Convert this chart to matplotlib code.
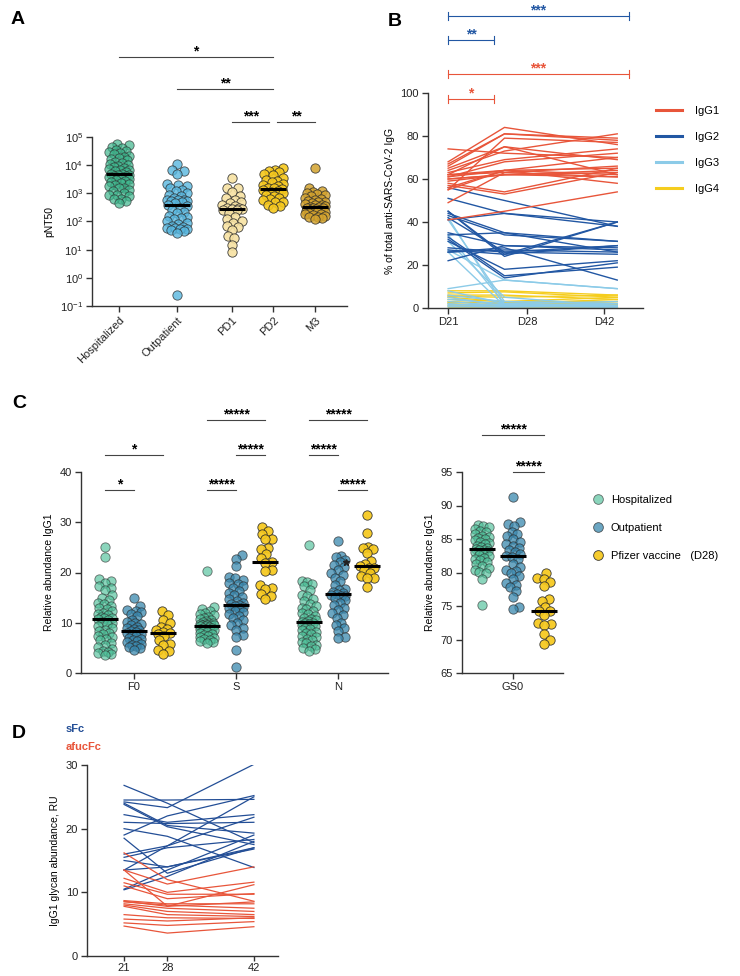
import numpy as np
import matplotlib
matplotlib.use("Agg")
import matplotlib.pyplot as plt
from matplotlib.lines import Line2D
from matplotlib.ticker import NullLocator, LogLocator

plt.rcParams["font.family"] = ["Liberation Sans", "DejaVu Sans"]
plt.rcParams["mathtext.fontset"] = "custom"
plt.rcParams["mathtext.rm"] = "Liberation Sans"
plt.rcParams["axes.unicode_minus"] = True

# ---------------- data ----------------
# A: pNT50
a_groups = ["Hospitalized", "Outpatient", "PD1", "PD2", "M3"]
a_hosp = [55000, 50000, 45000, 40000, 35000, 32000, 30000, 28000, 25000, 22000,
          20000, 18000, 16000, 15000, 13000, 12000, 11000, 10000, 9000, 8500,
          8000, 7500, 7000, 6500, 6000, 5500, 5000, 4800, 4600, 4400, 4200,
          4000, 3800, 3500, 3200, 3000, 2800, 2600, 2400, 2200, 2000, 1800,
          1600, 1500, 1300, 1200, 1000, 900, 850, 800, 650, 620, 550, 450]
a_outp = [11000, 7000, 6000, 5000, 2200, 2000, 1800, 1500, 1300, 1200, 1000,
          900, 800, 700, 600, 580, 560, 550, 540, 500, 450, 400, 350, 300,
          250, 220, 200, 160, 140, 130, 120, 100, 90, 80, 70, 65, 60, 58, 56,
          55, 50, 45, 40, 0.25]
a_pd1 = [3500, 1600, 1500, 1100, 800, 700, 600, 500, 450, 400, 350, 300, 290,
         280, 270, 260, 250, 200, 150, 120, 100, 90, 70, 65, 50, 30, 25, 15, 8.5]
a_pd2 = [8000, 7000, 6000, 5500, 5000, 4500, 3500, 3000, 2800, 2500, 2200,
         2000, 1800, 1600, 1500, 1400, 1300, 1200, 1100, 1000, 900, 800, 700,
         650, 600, 500, 480, 400, 350, 300]
a_m3 = [8000, 1600, 1200, 1100, 1000, 950, 900, 800, 700, 650, 600, 550, 500,
        480, 450, 420, 400, 380, 350, 330, 320, 310, 300, 290, 280, 260, 250,
        240, 230, 220, 210, 200, 190, 180, 170, 160, 150, 140, 130, 120]

# B: % of total IgG per subject at D21, D28, D42
b_days = [21, 28, 42]
b_ticklabels = ["D21", "D28", "D42"]
igg1 = [(74, 72, 70), (68, 84, 76), (67, 81, 79), (66, 81, 78), (65, 75, 62),
        (64, 73, 81), (63, 69, 74), (62, 64, 65), (62, 63, 66), (61, 64, 70),
        (61, 68, 72), (60, 62, 64), (59, 62, 61), (58, 54, 65), (57, 53, 63),
        (56, 64, 62), (55, 79, 77), (55, 64, 58), (49, 63, 61), (41, 45, 54),
        (62, 75, 69), (60, 62, 63)]
igg2 = [(56, 50, 38), (51, 44, 40), (45, 25, 40), (45, 24, 40), (44, 35, 31),
        (43, 34, 31), (42, 26, 29), (35, 29, 27), (34, 35, 26), (33, 15, 19),
        (32, 14, 21), (31, 18, 22), (28, 26, 25), (27, 25, 29), (26, 27, 26),
        (26, 28, 13), (22, 29, 28), (41, 44, 38)]
igg3 = [(42, 1, 1), (41, 3, 2), (34, 2, 1), (31, 5, 1), (27, 13, 9),
        (26, 1, 0.5), (9, 13, 9), (8, 2, 1), (6, 3, 2), (5, 1, 0.5), (4, 2, 3),
        (3, 1, 1), (2, 0.5, 1), (1.5, 1.5, 0.5), (1, 0.5, 0.5), (0.5, 0.5, 2)]
igg4 = [(8, 8, 6), (7, 7.5, 5), (6, 6, 4), (5.5, 5, 6), (5, 3, 5), (4, 3, 3),
        (3, 2, 4), (2.5, 2.5, 2), (2, 1, 3), (1, 1, 1.5), (0.5, 0.5, 0.5)]

# C: relative abundance IgG1
c_glycans = ["F0", "S", "N"]
c_groups = ["Hospitalized", "Outpatient", "Pfizer vaccine   (D28)"]
f0_hosp = [25.1, 23, 18.7, 18.3, 18, 17.3, 17, 16.5, 15.5, 15, 14.6, 14, 13.7,
           13.4, 13, 12.7, 12.3, 12, 11.8, 11.5, 11.2, 11, 11, 10.8, 10.5,
           10.2, 10, 9.7, 9.4, 9, 8.6, 8.3, 8, 7.7, 7.4, 7.1, 6.8, 6.5, 6, 5.6,
           5.2, 4.8, 4.4, 4.1, 3.9, 3.7, 3.5]
f0_outp = [14.9, 13.3, 12.5, 12.3, 12.1, 11.8, 11.3, 10.5, 10.2, 10, 9.8, 9.6,
           9.2, 9, 8.7, 8.5, 8.3, 8.1, 8, 7.8, 7.6, 7.3, 7, 6.8, 6.5, 6.3, 6.1,
           5.8, 5.6, 5.4, 5.2, 5, 4.5]
f0_pfizer = [12.3, 11.5, 10.5, 9.9, 9.2, 8.8, 8.5, 8.1, 8.0, 7.8, 7.3, 6.5,
             5.8, 5.5, 4.5, 4.3, 3.7]
s_hosp = [20.3, 13.2, 12.8, 12.3, 12, 11.8, 11.5, 11.2, 11, 10.8, 10.6, 10.4,
          10.2, 10, 9.9, 9.8, 9.7, 9.6, 9.6, 9.6, 9.5, 9.4, 9.3, 9.2, 9.0, 8.9,
          8.8, 8.7, 8.6, 8.5, 8.3, 8.1, 8, 7.8, 7.6, 7.4, 7.2, 7, 6.8, 6.6,
          6.3, 6.1, 6]
s_outp = [23.4, 22.6, 21.3, 19.2, 19, 18.6, 18, 17.8, 17.3, 17, 16.4, 16,
          15.6, 15.2, 14.8, 14.4, 14, 13.7, 13.5, 13.4, 13.2, 13, 12.7, 12.4,
          12.1, 11.8, 11.4, 11, 10.5, 10, 9.5, 9, 8.6, 7.6, 7.2, 4.5, 1.2]
s_pfizer = [29, 28.2, 27.7, 26.7, 26.6, 24.9, 24.7, 23.7, 22.8, 22, 21.8,
            20.5, 20.3, 17.5, 17, 16.7, 15.7, 15.3, 14.7]
n_hosp = [25.4, 18.3, 18.2, 17.7, 17.3, 16.5, 15.5, 15.3, 14.8, 14.3, 13.7,
          13.3, 13, 12.7, 12.3, 12, 11.7, 11.3, 11, 10.8, 10.5, 10.3, 10.1, 10,
          9.9, 9.7, 9.5, 9.3, 9, 8.7, 8.5, 8.2, 8, 7.7, 7.4, 7.1, 6.8, 6.5,
          6.2, 5.9, 5.6, 5.3, 5, 4.7, 4.3]
n_outp = [26.3, 23.2, 23.1, 22.5, 22, 21.5, 21, 20.5, 20, 19.5, 19, 18.3, 17.5,
          16.8, 16.5, 16.2, 16, 15.8, 15.5, 15.4, 15.3, 15, 14.5, 14, 13.5, 13,
          12.5, 12, 11.5, 11, 10, 9.5, 9, 8.3, 7.2, 6.9]
n_pfizer = [31.4, 27.9, 25.1, 24.9, 24.7, 23.9, 22.2, 21.6, 21.2, 20.9, 20.8,
            20.5, 19.9, 19.4, 19, 18.9, 17.2]
gs0_hosp = [87.1, 87, 86.8, 86.5, 86.2, 86, 85.8, 85.5, 85.3, 85.1, 85, 84.8,
            84.6, 84.4, 84.2, 84, 83.8, 83.6, 83.5, 83.4, 83.3, 83.2, 83, 82.8,
            82.6, 82.4, 82.2, 82, 81.8, 81.6, 81.3, 81, 80.7, 80.4, 80.1, 79.9,
            79.1, 75.1]
gs0_outp = [91.3, 87.5, 87.3, 86.9, 86, 85.8, 85.5, 85, 84.6, 84.3, 84, 83.7,
            83.4, 83, 82.8, 82.5, 82.3, 82, 81.3, 80.8, 80.4, 80.2, 80, 79.5,
            79.1, 78.5, 78.2, 77.8, 77.2, 76.3, 74.9, 74.5]
gs0_pfizer = [79.9, 79.2, 79.0, 78.6, 78.0, 76.0, 75.8, 74.9, 74.3, 74.2, 73.6,
              72.4, 72.3, 72.2, 70.8, 70.0, 69.4]

# D: IgG1 glycan abundance per subject at day 21, 28, 42
d_days = [21, 28, 42]
sfc = [(26.8, 24.0, 17.8), (24.5, 24.5, 24.6), (24.2, 23.3, 30.1),
       (24.0, 20.5, 19.3), (23.8, 20.3, 17.5), (22.2, 21.0, 22.2),
       (21.0, 20.8, 21.0), (20.0, 18.8, 13.9), (19.0, 22.0, 25.2),
       (18.5, 13.0, 17.0), (16.0, 17.3, 25.0), (15.5, 17.0, 18.3),
       (15.0, 14.0, 17.0), (13.5, 14.0, 16.8), (13.5, 17.3, 21.8),
       (10.5, 13.5, 19.0), (10.4, 12.5, 18.0)]
afucfc = [(16.2, 12.0, 8.6), (13.5, 11.3, 14.0), (13.5, 7.8, 8.5),
          (12.2, 10.0, 11.6), (11.5, 9.7, 9.7), (11.0, 9.0, 9.8),
          (8.7, 8.2, 8.2), (8.5, 8.0, 7.5), (8.2, 7.5, 7.0), (8.0, 7.0, 6.5),
          (7.8, 6.5, 6.2), (6.5, 6.0, 5.9), (5.8, 5.5, 6.0), (5.2, 4.8, 5.4),
          (4.7, 3.6, 4.6), (8.6, 7.8, 11.2)]

# ---------------- layout ----------------
W, H = 740, 976
fig = plt.figure(figsize=(W / 100, H / 100), dpi=100)
SPINE = "#333333"
RED = "#E8553A"
BLUE = "#2257A3"
LIGHTBLUE = "#8CCBE8"
YELLOW = "#F5CD1E"


def px_axes(l, t, r, b):
    ax = fig.add_axes([l / W, 1 - b / H, (r - l) / W, (b - t) / H])
    for s in ["top", "right"]:
        ax.spines[s].set_visible(False)
    for s in ["left", "bottom"]:
        ax.spines[s].set_linewidth(1.0)
        ax.spines[s].set_color(SPINE)
    ax.tick_params(length=4, width=1, labelsize=8, pad=2.5, color=SPINE,
                   labelcolor="#222")
    ax.patch.set_alpha(0)
    return ax


def swarm_offsets(ypx, gap, half):
    cands = np.arange(0.5, half + 0.01, 0.5)
    cands = np.concatenate([[0.0], np.ravel(np.column_stack([cands, -cands]))])
    px, py = [], []
    offs = np.zeros(len(ypx))
    for i in np.argsort(ypx):
        y = ypx[i]
        if px:
            d = np.hypot(cands[:, None] - np.array(px)[None, :],
                         y - np.array(py)[None, :]).min(axis=1)
            ok = np.nonzero(d >= gap)[0]
            c = cands[ok[0]] if len(ok) else cands[np.argmax(d)]
        else:
            c = 0.0
        offs[i] = c
        px.append(c)
        py.append(y)
    return offs


def swarm(ax, x0, vals, color, alpha, half=10, s=45):
    vals = np.asarray(vals, float)
    ypx = ax.transData.transform(np.column_stack([np.full(len(vals), x0), vals]))[:, 1]
    offs = swarm_offsets(ypx, 6.5, half)
    per_px = 1 / (ax.transData.transform((1, 0))[0] - ax.transData.transform((0, 0))[0])
    ax.scatter(x0 + offs * per_px, vals, s=s, c=color, alpha=alpha,
               edgecolors="#2a2a2a", linewidths=0.6, zorder=3, clip_on=False)
    med = np.median(vals)
    ax.plot([x0 - 13 * per_px, x0 + 13 * per_px], [med, med], color="black",
            lw=2.2, zorder=4, solid_capstyle="butt")


def sig(ax, x0, x1, y, text, color="#444444", caps=None):
    ax.plot([x0, x1], [y, y], color=color, lw=0.8, clip_on=False)
    if caps:
        for x in (x0, x1):
            ax.plot([x, x], [y - caps, y + caps], color=color, lw=0.8, clip_on=False)
    ax.annotate(text, ((x0 + x1) / 2, y), xytext=(0, -1), textcoords="offset points",
                ha="center", va="bottom", fontsize=10, fontweight="bold",
                color="black" if color == "#444444" else color,
                annotation_clip=False)


# ---------------- A ----------------
axA = px_axes(92, 137, 347, 306)
a_pos = [0, 1, 1.95, 2.66, 3.38]
axA.set_yscale("log")
axA.set_ylim(0.1, 1e5)
axA.set_xlim(-0.466, 3.93)
axA.yaxis.set_major_locator(LogLocator(base=10, numticks=10))
axA.yaxis.set_minor_locator(NullLocator())
axA.set_xticks(a_pos)
axA.set_xticklabels(a_groups, rotation=45, ha="right", rotation_mode="anchor")
axA.set_ylabel("pNT50", fontsize=7.5, labelpad=4)
a_colors = ["#3DB58C", "#58B7DF", "#F7E2A2", "#F6C81C", "#D3A32E"]
a_alpha = [0.7, 0.8, 0.9, 0.9, 0.85]
for p, vals, c, al in zip(a_pos, [a_hosp, a_outp, a_pd1, a_pd2, a_m3], a_colors, a_alpha):
    swarm(axA, p, vals, c, al, half=10)
sig(axA, a_pos[0], a_pos[3], 10 ** 7.84, "*")
sig(axA, a_pos[1], a_pos[3], 10 ** 6.70, "**")
sig(axA, a_pos[2], a_pos[3] - 0.07, 10 ** 5.53, "***")
sig(axA, a_pos[3] + 0.07, a_pos[4], 10 ** 5.53, "**")

# ---------------- B ----------------
axB = px_axes(428, 93, 643, 308)
axB.set_xlim(18.5, 45.2)
axB.set_ylim(0, 100)
axB.set_yticks(range(0, 101, 20))
axB.set_xticks([21, 30.8, 40.4])
axB.set_xticklabels(b_ticklabels)
axB.set_ylabel("% of total anti-SARS-CoV-2 IgG", fontsize=7.5, labelpad=4)
for series, c in [(igg4, YELLOW), (igg3, LIGHTBLUE), (igg2, BLUE), (igg1, RED)]:
    for row in series:
        axB.plot(b_days, row, color=c, lw=1.0, clip_on=False)
sig(axB, 21, 43.4, 135.8, "***", color=BLUE, caps=2)
sig(axB, 21, 26.7, 124.7, "**", color=BLUE, caps=2)
sig(axB, 21, 43.4, 108.8, "***", color=RED, caps=2)
sig(axB, 21, 26.7, 97.2, "*", color=RED, caps=2)
handles = [Line2D([], [], color=c, lw=2.2) for c in [RED, BLUE, LIGHTBLUE, YELLOW]]
axB.legend(handles, ["IgG1", "IgG2", "IgG3", "IgG4"], loc="upper left",
           bbox_to_anchor=(656 / W, 1 - 106 / H), bbox_transform=fig.transFigure,
           frameon=False, fontsize=8, handlelength=2.3, handletextpad=1.2,
           labelspacing=1.45, borderaxespad=0, borderpad=0)

# ---------------- C ----------------
c_colors = ["#4DBF98", "#3A88AE", "#F6C81C"]
c_alpha = [0.65, 0.75, 0.92]
off = 0.285
axC = px_axes(81, 472, 388, 673)
axC.set_xlim(-0.52, 2.49)
axC.set_ylim(0, 40)
axC.set_yticks(range(0, 41, 10))
axC.set_xticks([0, 1, 2])
axC.set_xticklabels(c_glycans)
axC.set_ylabel("Relative abundance IgG1", fontsize=7.5, labelpad=4)
for gi, groups in enumerate([(f0_hosp, f0_outp, f0_pfizer),
                             (s_hosp, s_outp, s_pfizer),
                             (n_hosp, n_outp, n_pfizer)]):
    for k, vals in enumerate(groups):
        swarm(axC, gi + (k - 1) * off, vals, c_colors[k], c_alpha[k], half=7)
axC.plot([2 + 0.08], [22], marker="*", color="#222", ms=5, ls="none", zorder=5)
sig(axC, -off, 0, 36.4, "*")
sig(axC, -off, off, 43.4, "*")
sig(axC, 1 - off, 1, 36.4, "*****")
sig(axC, 1, 1 + off, 43.4, "*****")
sig(axC, 1 - off, 1 + off, 50.4, "*****")
sig(axC, 2 - off, 2 + off, 50.4, "*****")
sig(axC, 2 - off, 2, 43.4, "*****")
sig(axC, 2, 2 + off, 36.4, "*****")

axC2 = px_axes(462, 472, 563, 673)
axC2.set_xlim(-0.5, 0.49)
axC2.set_ylim(65, 95)
axC2.set_yticks(range(65, 96, 5))
axC2.set_xticks([0])
axC2.set_xticklabels(["GS0"])
axC2.set_ylabel("Relative abundance IgG1", fontsize=7.5, labelpad=4)
off2 = 0.304
for k, vals in enumerate([gs0_hosp, gs0_outp, gs0_pfizer]):
    swarm(axC2, (k - 1) * off2, vals, c_colors[k], c_alpha[k], half=7)
sig(axC2, 0, off2, 95, "*****")
sig(axC2, -off2, off2, 100.5, "*****")
chandles = [Line2D([], [], marker="o", ls="none", ms=7, mfc=c, mec="#2a2a2a",
                   mew=0.6, alpha=a) for c, a in zip(c_colors, c_alpha)]
axC2.legend(chandles, c_groups, loc="upper left",
            bbox_to_anchor=(592 / W, 1 - 495 / H), bbox_transform=fig.transFigure,
            frameon=False, fontsize=8, handlelength=1.0, handletextpad=0.7,
            labelspacing=1.6, borderaxespad=0, borderpad=0)

# ---------------- D ----------------
axD = px_axes(87, 765, 278, 956)
axD.set_xlim(15, 45.9)
axD.set_ylim(0, 30)
axD.set_yticks([0, 10, 20, 30])
axD.set_xticks(d_days)
axD.tick_params(axis="x", pad=1.5, length=3.5)
axD.set_ylabel("IgG1 glycan abundance, RU", fontsize=7.5, labelpad=4)
for row in sfc:
    axD.plot(d_days, row, color="#234E96", lw=0.9)
for row in afucfc:
    axD.plot(d_days, row, color=RED, lw=0.9)
axD.text(-0.11, 1.19, "sFc", transform=axD.transAxes, color="#234E96",
         fontsize=8, fontweight="bold", va="center")
axD.text(-0.11, 1.094, "afucFc", transform=axD.transAxes, color=RED,
         fontsize=8, fontweight="bold", va="center")

# panel letters
for letter, x, y in [("A", 11, 20), ("B", 388, 21), ("C", 12, 403), ("D", 12, 733)]:
    fig.text(x / W, 1 - y / H, letter, fontsize=14, fontweight="bold",
             ha="left", va="center")

fig.savefig("out.png", dpi=100)
